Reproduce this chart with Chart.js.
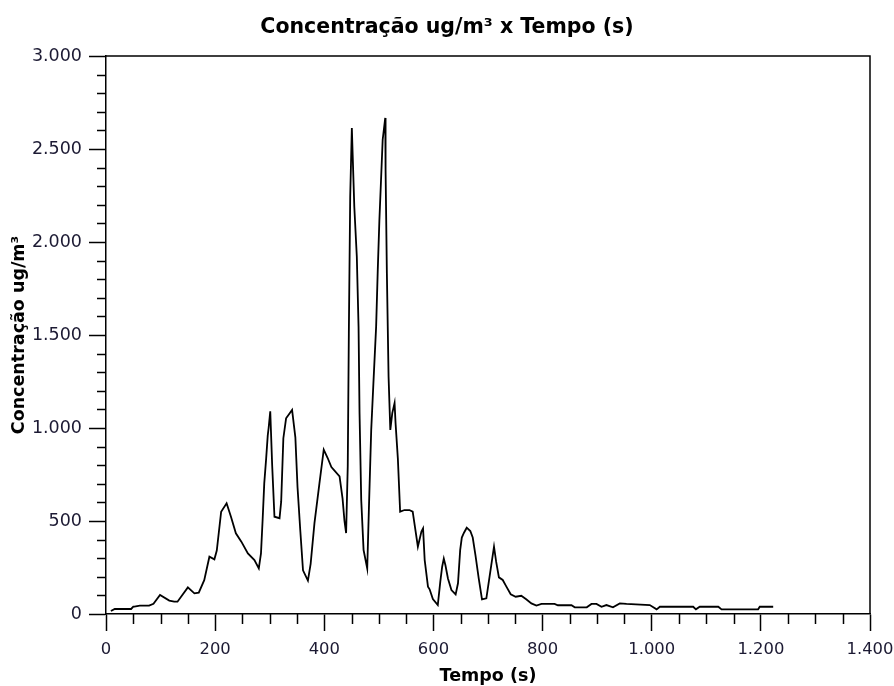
<!DOCTYPE html>
<html>
<head>
<meta charset="utf-8">
<script src="https://cdn.jsdelivr.net/npm/chart.js@4/dist/chart.umd.min.js"></script>
<style>
  html, body { margin: 0; padding: 0; background: #ffffff; }
  #wrap { width: 894px; height: 686px; }
</style>
</head>
<body>
<div id="wrap"><canvas id="c" width="894" height="686"></canvas></div>
<script>
// ---- Data ----
const times = [
  9, 16, 46, 50, 52, 62, 79, 87, 99, 116, 125, 131, 150, 162, 170, 180, 189.5, 198.6, 203, 211,
  221, 229, 238, 248, 260, 272, 280, 284, 287, 290, 293.5, 296.4, 298, 301, 304.5, 308.7, 318, 321, 325, 330,
  341, 347, 351, 356, 361, 370, 375, 382, 391, 399, 406, 413, 428, 433.5, 437, 440, 443, 445, 447.5, 450.5,
  452, 455, 459.6, 462.8, 464.6, 467.7, 472, 478.7, 481.7, 486, 490, 495, 498, 501, 504, 507, 511.7, 512.3, 514.7, 517.8,
  521, 524.6, 528.8, 530.6, 534.8, 539, 547, 556, 562, 571.5, 578, 581, 584, 590, 593, 599, 608, 612.6, 616, 619,
  622, 626.6, 633, 640.7, 645, 649, 652, 656, 661, 667.6, 672, 677, 683, 689, 697, 702, 706, 711, 715, 720,
  727, 733.7, 741.6, 750.7, 761, 770, 779.5, 788.7, 798, 822, 828, 853, 859, 881, 889.6, 898.8, 908, 917, 929, 941.5,
  953.8, 996.5, 1009, 1015, 1076, 1081, 1088, 1122, 1128, 1195, 1198, 1222.6
];
const concentrations = [
  16, 27, 27, 40, 40, 45, 45, 55, 102, 72, 66, 66, 143, 111, 115, 182, 308, 294, 341, 550,
  595, 523, 434, 389, 326, 290, 245, 326, 505, 702, 837, 960, 1000, 1090, 800, 523, 515, 604, 945, 1052,
  1097, 950, 680, 450, 235, 180, 270, 489, 700, 884, 840, 790, 740, 620, 500, 435, 795, 1510, 2245, 2613,
  2470, 2190, 1922, 1545, 1080, 613, 344, 245, 560, 990, 1240, 1545, 1850, 2120, 2335, 2550, 2667, 2390, 1832, 1276,
  990, 1080, 1134, 1026, 837, 550, 559, 559, 550, 362, 443, 460, 290, 147, 133, 80, 48, 174, 254, 298,
  262, 191, 129, 105, 165, 343, 411, 437, 464, 446, 411, 316, 191, 78, 84, 183, 263, 362, 280, 197,
  183, 147, 106, 93, 98, 79, 57, 45, 54, 54, 47, 47, 36, 36, 54, 54, 39, 48, 36, 57,
  54, 48, 25, 39, 39, 25, 39, 39, 25, 25, 39, 39
];
const xTickValues = [0, 200, 400, 600, 800, 1000, 1200, 1400];
const yTickValues = [0, 500, 1000, 1500, 2000, 2500, 3000];
const xMinorStep = 50;
const yMinorStep = 100;

const titleText = 'Concentração ug/m³ x Tempo (s)';
const xTitle = 'Tempo (s)';
const yTitle = 'Concentração ug/m³';

function fmtBR(v) {
  return String(v).replace(/\B(?=(\d{3})+(?!\d))/g, '.');
}

const points = times.map((t, i) => ({ x: t, y: concentrations[i] }));

const FONT = '"DejaVu Sans", Verdana, sans-serif';
const INK = '#000000';
const TEXT = '#1c1a33';

// Frame (top/right border) and minor ticks, drawn through the chart's scales
const framePlugin = {
  id: 'frameAndMinor',
  afterDraw(chart) {
    const ctx = chart.ctx;
    const a = chart.chartArea;
    const xs = chart.scales.x, ys = chart.scales.y;
    ctx.save();
    ctx.strokeStyle = INK;
    ctx.lineWidth = 1.5;
    ctx.beginPath();
    ctx.moveTo(a.left, a.top);
    ctx.lineTo(a.right, a.top);
    ctx.lineTo(a.right, a.bottom);
    ctx.stroke();
    ctx.beginPath();
    for (let v = xs.min; v <= xs.max; v += xMinorStep) {
      if (xTickValues.includes(v)) continue;
      const px = Math.round(xs.getPixelForValue(v)) + 0.5;
      ctx.moveTo(px, a.bottom);
      ctx.lineTo(px, a.bottom + 10);
    }
    for (let v = ys.min; v <= ys.max; v += yMinorStep) {
      if (yTickValues.includes(v)) continue;
      const py = Math.round(ys.getPixelForValue(v)) + 0.5;
      ctx.moveTo(a.left - 9, py);
      ctx.lineTo(a.left, py);
    }
    ctx.stroke();
    ctx.restore();
  }
};

new Chart(document.getElementById('c'), {
  type: 'line',
  data: {
    datasets: [{
      data: points,
      borderColor: '#000000',
      borderWidth: 1.8,
      pointRadius: 0,
      tension: 0,
      fill: false
    }]
  },
  options: {
    responsive: false,
    animation: false,
    layout: { padding: { left: 0, right: 0, top: 0, bottom: 0 } },
    plugins: {
      legend: { display: false },
      tooltip: { enabled: false },
      title: {
        display: true,
        text: titleText,
        color: '#000000',
        font: { family: FONT, size: 20.5, weight: 'bold', lineHeight: 1.2 },
        padding: { top: 15, bottom: 16.4 }
      }
    },
    scales: {
      x: {
        type: 'linear',
        min: 0,
        max: 1400,
        afterBuildTicks(scale) { scale.ticks = xTickValues.map(v => ({ value: v })); },
        afterFit(scale) {
          scale.height = 72;
          scale.paddingLeft = 0;
          scale.paddingRight = 24;
        },
        ticks: {
          color: TEXT,
          font: { family: FONT, size: 16.4 },
          padding: 9,
          maxRotation: 0,
          autoSkip: false,
          callback: v => fmtBR(v)
        },
        grid: {
          display: true,
          drawOnChartArea: false,
          drawTicks: true,
          tickLength: 17,
          tickColor: INK,
          tickWidth: 1.5
        },
        border: { display: true, color: INK, width: 1.5 },
        title: {
          display: true,
          text: xTitle,
          color: '#000000',
          font: { family: FONT, size: 17.5, weight: 'bold', lineHeight: 1.2 },
          padding: { top: 0, bottom: -1 }
        }
      },
      y: {
        type: 'linear',
        min: 0,
        max: 3000,
        afterBuildTicks(scale) { scale.ticks = yTickValues.map(v => ({ value: v })); },
        afterFit(scale) { scale.width = 106; },
        ticks: {
          color: TEXT,
          font: { family: FONT, size: 17.5 },
          padding: 7,
          autoSkip: false,
          callback: v => fmtBR(v)
        },
        grid: {
          display: true,
          drawOnChartArea: false,
          drawTicks: true,
          tickLength: 17,
          tickColor: INK,
          tickWidth: 1.5
        },
        border: { display: true, color: INK, width: 1.5 },
        title: {
          display: true,
          text: yTitle,
          color: '#000000',
          font: { family: FONT, size: 17.5, weight: 'bold', lineHeight: 1.2 },
          padding: { top: 9, bottom: 0 }
        }
      }
    }
  },
  plugins: [framePlugin]
});
</script>
</body>
</html>
